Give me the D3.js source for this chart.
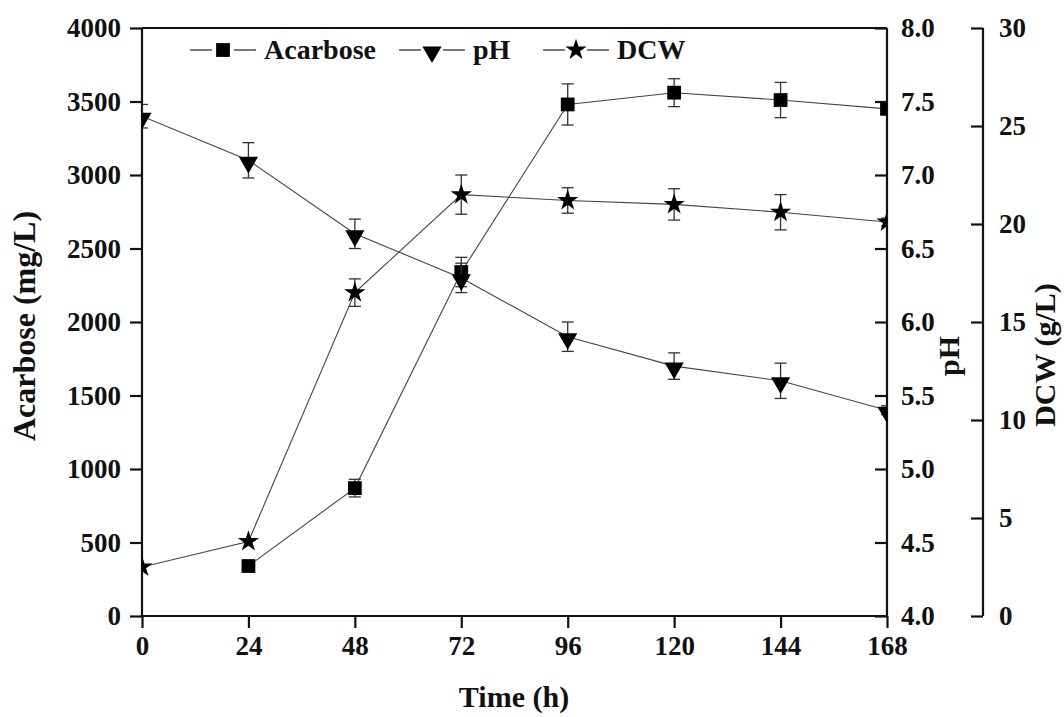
<!DOCTYPE html>
<html>
<head>
<meta charset="utf-8">
<script src="https://cdn.jsdelivr.net/npm/d3@7"></script>
<style>
	body { margin: 0; background: #fff; }
	text { font-family: "Liberation Serif", "Times New Roman", serif; font-weight: bold; fill: #111; }
</style>
</head>
<body>
<div id="chart"></div>
<script>
var time = [0, 24, 48, 72, 96, 120, 144, 168];
var acarbose = [null, 340, 870, 2340, 3480, 3560, 3510, 3450];
var acarboseErr = [null, 0, 60, 100, 140, 95, 120, 30];
var ph = [7.4, 7.1, 6.6, 6.3, 5.9, 5.7, 5.6, 5.4];
var phErr = [0.08, 0.12, 0.1, 0.1, 0.1, 0.09, 0.12, 0.03];
var dcw = [2.5, 3.8, 16.5, 21.5, 21.2, 21.0, 20.6, 20.1];
var dcwErr = [0, 0, 0.7, 1.0, 0.65, 0.8, 0.9, 0.2];

var xTicks = [0, 24, 48, 72, 96, 120, 144, 168];
var leftTicks = [0, 500, 1000, 1500, 2000, 2500, 3000, 3500, 4000];
var phTicks = [4.0, 4.5, 5.0, 5.5, 6.0, 6.5, 7.0, 7.5, 8.0];
var dcwTicks = [0, 5, 10, 15, 20, 25, 30];

var W = 1064, H = 717;
var margin = {top: 28, left: 142, bottom: 101, right: 177};
var width = W - margin.left - margin.right,
	height = H - margin.top - margin.bottom;

var svg = d3.select("#chart").append("svg")
	.attr("width", W)
	.attr("height", H);

var g = svg.append("g")
	.attr("transform", "translate(" + margin.left + "," + margin.top + ")");

var x = d3.scaleLinear().domain([0, 168]).range([0, width]);
var yA = d3.scaleLinear().domain([0, 4000]).range([height, 0]);
var yP = d3.scaleLinear().domain([4, 8]).range([height, 0]);
var yD = d3.scaleLinear().domain([0, 30]).range([height, 0]);

svg.append("defs").append("clipPath").attr("id", "clip")
	.append("rect").attr("width", width).attr("height", height);

var fs = 27;

// axes
var xAxis = g.append("g")
	.attr("transform", "translate(0," + height + ")")
	.call(d3.axisBottom(x).tickValues(xTicks).tickSize(12).tickPadding(8).tickFormat(d3.format("d")));

var yAxis = g.append("g")
	.call(d3.axisLeft(yA).tickValues(leftTicks).tickSize(12).tickPadding(9).tickFormat(d3.format("d")));

var pAxis = g.append("g")
	.attr("transform", "translate(" + width + ",0)")
	.call(d3.axisRight(yP).tickValues(phTicks).tickSize(-12).tickPadding(14).tickFormat(d3.format(".1f")));

var dAxis = g.append("g")
	.attr("transform", "translate(" + (width + 96) + ",0)")
	.call(d3.axisRight(yD).tickValues(dcwTicks).tickSize(-12).tickPadding(16).tickFormat(d3.format("d")));

[xAxis, yAxis, pAxis, dAxis].forEach(function(a) {
	a.select(".domain").attr("stroke", "#111").attr("stroke-width", 2.2);
	a.selectAll(".tick line").attr("stroke", "#111").attr("stroke-width", 2.2);
	a.selectAll(".tick text").attr("font-size", fs).attr("fill", "#111")
		.style("font-family", "'Liberation Serif', serif").style("font-weight", "bold");
});
// plain domain lines, no end caps
xAxis.select(".domain").attr("d", "M0,0H" + width);
yAxis.select(".domain").attr("d", "M0,0V" + height);
pAxis.select(".domain").attr("d", "M0,0V" + height);
dAxis.select(".domain").attr("d", "M0,0V" + height);

g.append("line")
	.attr("x1", 0).attr("x2", width).attr("y1", 0).attr("y2", 0)
	.attr("stroke", "#111").attr("stroke-width", 2.2);

// axis titles
g.append("text")
	.attr("transform", "translate(" + (-107) + "," + (height / 2 + 4) + ") rotate(-90)")
	.attr("text-anchor", "middle")
	.attr("font-size", 32)
	.text("Acarbose (mg/L)");

g.append("text")
	.attr("transform", "translate(" + (width + 72) + "," + (height / 2 + 34) + ") rotate(-90)")
	.attr("text-anchor", "middle")
	.attr("font-size", 30)
	.text("pH");

g.append("text")
	.attr("transform", "translate(" + (width + 168) + "," + (height / 2 + 33) + ") rotate(-90)")
	.attr("text-anchor", "middle")
	.attr("font-size", 30)
	.text("DCW (g/L)");

g.append("text")
	.attr("x", 372)
	.attr("y", height + 91)
	.attr("text-anchor", "middle")
	.attr("font-size", 30)
	.text("Time (h)");

// series
var series = [
	{name: "Acarbose", vals: acarbose, errs: acarboseErr, y: yA, shape: "square"},
	{name: "pH", vals: ph, errs: phErr, y: yP, shape: "tri"},
	{name: "DCW", vals: dcw, errs: dcwErr, y: yD, shape: "star"}
];

var symPath = {
	square: d3.symbol().type(d3.symbolSquare).size(190)(),
	tri: d3.symbol().type(d3.symbolTriangle).size(160)(),
	star: d3.symbol().type(d3.symbolStar).size(140)()
};
function symTransform(shape, px, py) {
	var t = "translate(" + px + "," + py + ")";
	if (shape === "tri") t += " rotate(180) translate(0,-2)";
	return t;
}

var plot = g.append("g").attr("clip-path", "url(#clip)");

series.forEach(function(s) {
	var pts = time.map(function(t, i) { return {t: t, v: s.vals[i], e: s.errs[i]}; })
		.filter(function(d) { return d.v != null; });

	var line = d3.line()
		.x(function(d) { return x(d.t); })
		.y(function(d) { return s.y(d.v); });

	plot.append("path")
		.datum(pts)
		.attr("d", line)
		.attr("fill", "none")
		.attr("stroke", "#444")
		.attr("stroke-width", 1.1);

	var eb = plot.append("g").selectAll("g")
		.data(pts.filter(function(d) { return d.e > 0; }))
		.enter().append("g")
		.attr("stroke", "#333")
		.attr("stroke-width", 1.3);
	eb.append("line")
		.attr("x1", function(d) { return x(d.t); })
		.attr("x2", function(d) { return x(d.t); })
		.attr("y1", function(d) { return s.y(d.v + d.e); })
		.attr("y2", function(d) { return s.y(d.v - d.e); });
	eb.append("line")
		.attr("x1", function(d) { return x(d.t) - 6; })
		.attr("x2", function(d) { return x(d.t) + 6; })
		.attr("y1", function(d) { return s.y(d.v + d.e); })
		.attr("y2", function(d) { return s.y(d.v + d.e); });
	eb.append("line")
		.attr("x1", function(d) { return x(d.t) - 6; })
		.attr("x2", function(d) { return x(d.t) + 6; })
		.attr("y1", function(d) { return s.y(d.v - d.e); })
		.attr("y2", function(d) { return s.y(d.v - d.e); });

	plot.append("g").selectAll("path")
		.data(pts)
		.enter().append("path")
		.attr("d", symPath[s.shape])
		.attr("transform", function(d) { return symTransform(s.shape, x(d.t), s.y(d.v)); })
		.attr("fill", "#000");
});

// legend
var legendX = [48, 257, 401];
var legend = g.append("g").attr("transform", "translate(0,22)");
series.forEach(function(s, i) {
	var lg = legend.append("g").attr("transform", "translate(" + legendX[i] + ",0)");
	lg.append("line").attr("x1", 0).attr("x2", 22).attr("y1", 0).attr("y2", 0)
		.attr("stroke", "#333").attr("stroke-width", 1.3);
	lg.append("line").attr("x1", 44).attr("x2", 66).attr("y1", 0).attr("y2", 0)
		.attr("stroke", "#333").attr("stroke-width", 1.3);
	lg.append("path")
		.attr("d", symPath[s.shape])
		.attr("transform", symTransform(s.shape, 33, 0))
		.attr("fill", "#000");
	lg.append("text")
		.attr("x", 74)
		.attr("y", 9)
		.attr("font-size", 28)
		.text(s.name);
});
</script>
</body>
</html>
